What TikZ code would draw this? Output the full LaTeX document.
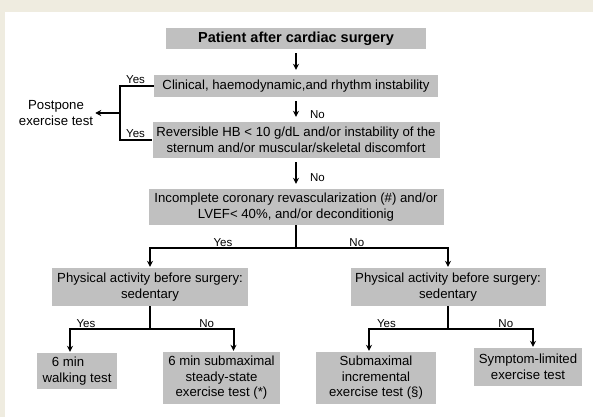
\documentclass[tikz,border=0pt]{standalone}
\usepackage{fontspec}
\setmainfont{Liberation Sans}
\usetikzlibrary{arrows.meta}
\definecolor{boxgray}{RGB}{192,192,192}
\definecolor{framebg}{RGB}{239,236,224}

\begin{document}
\begin{tikzpicture}[x=1pt,y=-1pt,
    box/.style={fill=boxgray,inner sep=1pt,align=center,font=\fontsize{13.2}{15.5}\selectfont},
    main/.style={-{Stealth[length=6pt,width=6pt]},line width=2pt,shorten <=4pt,shorten >=5pt},
    flow/.style={-{Stealth[length=6pt,width=6pt]},line width=2pt,shorten >=1pt},
    yn/.style={font=\fontsize{11.5}{13}\selectfont,inner sep=1pt}]
  \useasboundingbox (0,0) rectangle (593,417);
  \fill[framebg] (0,0) rectangle (593,417);
  \fill[white] (5,12) rectangle (593,417);

  % main column
  \node[box,minimum width=260,minimum height=21,font=\bfseries\fontsize{14.5}{16}\selectfont] (patient) at (296,38.5) {Patient after cardiac surgery};
  \node[box,minimum width=284,minimum height=22] (clin) at (296,86) {Clinical, haemodynamic,and rhythm instability};
  \node[box,minimum width=287,minimum height=36] (rev) at (296,140) {Reversible HB < 10 g/dL and/or instability of the\\sternum and/or muscular/skeletal discomfort};
  \node[box,minimum width=295,minimum height=36] (incomp) at (296,207) {Incomplete coronary revascularization (\#) and/or\\LVEF< 40\%, and/or deconditionig};
  \node[align=center,font=\fontsize{13.2}{15.5}\selectfont,inner sep=1pt] (postpone) at (56,113) {Postpone\\exercise test};
  \coordinate (split) at (120,113);

  % second level
  \node[box,minimum width=196,minimum height=38] (sedl) at (150,287) {Physical activity before surgery:\\sedentary};
  \node[box,minimum width=195,minimum height=38] (sedr) at (448,287) {Physical activity before surgery:\\sedentary};

  % tests
  \node[box,minimum width=80,minimum height=36] (walk) at (77,371) {6 min\hspace*{18pt}\\walking test};
  \node[box,minimum width=117,minimum height=52] (steady) at (221.5,378) {6 min submaximal\\steady-state\\exercise test (*)};
  \node[box,minimum width=120,minimum height=52] (incr) at (376,378) {Submaximal\\incremental\\exercise test (§)};
  \node[box,minimum width=108,minimum height=38] (symp) at (528,367) {Symptom-limited\\exercise test};

  \draw[main] (patient) -- (clin);
  \draw[main] (clin) -- node[pos=.72,right=12pt,yn] {No} (rev);
  \draw[main] (rev) -- node[pos=.62,right=12pt,yn] {No} (incomp);
  \draw[line width=2pt] (clin.west) -| node[pos=.27,above,yn] {Yes} (split) |- node[pos=.74,above,yn] {Yes} (rev.west);
  \draw[flow] (split) -- (postpone.east);

  \draw[flow] (incomp.south) -- ++(0,23) -| node[pos=.25,above,yn] {Yes} (sedl.north);
  \draw[flow] (incomp.south) -- ++(0,23) -| node[pos=.2,above,yn] {No} (sedr.north);
  \draw[flow] (sedl.south) -- ++(0,23) -| node[pos=.4,above,yn] {Yes} ([xshift=-7pt]walk.north);
  \draw[flow] (sedl.south) -- ++(0,23) -| node[pos=.34,above,yn] {No} ([xshift=12pt]steady.north);
  \draw[flow] (sedr.south) -- ++(0,23) -| node[pos=.39,above,yn] {Yes} ([xshift=-7pt]incr.north);
  \draw[flow] (sedr.south) -- ++(0,23) -| node[pos=.34,above,yn] {No} ([xshift=5pt]symp.north);
\end{tikzpicture}
\end{document}
